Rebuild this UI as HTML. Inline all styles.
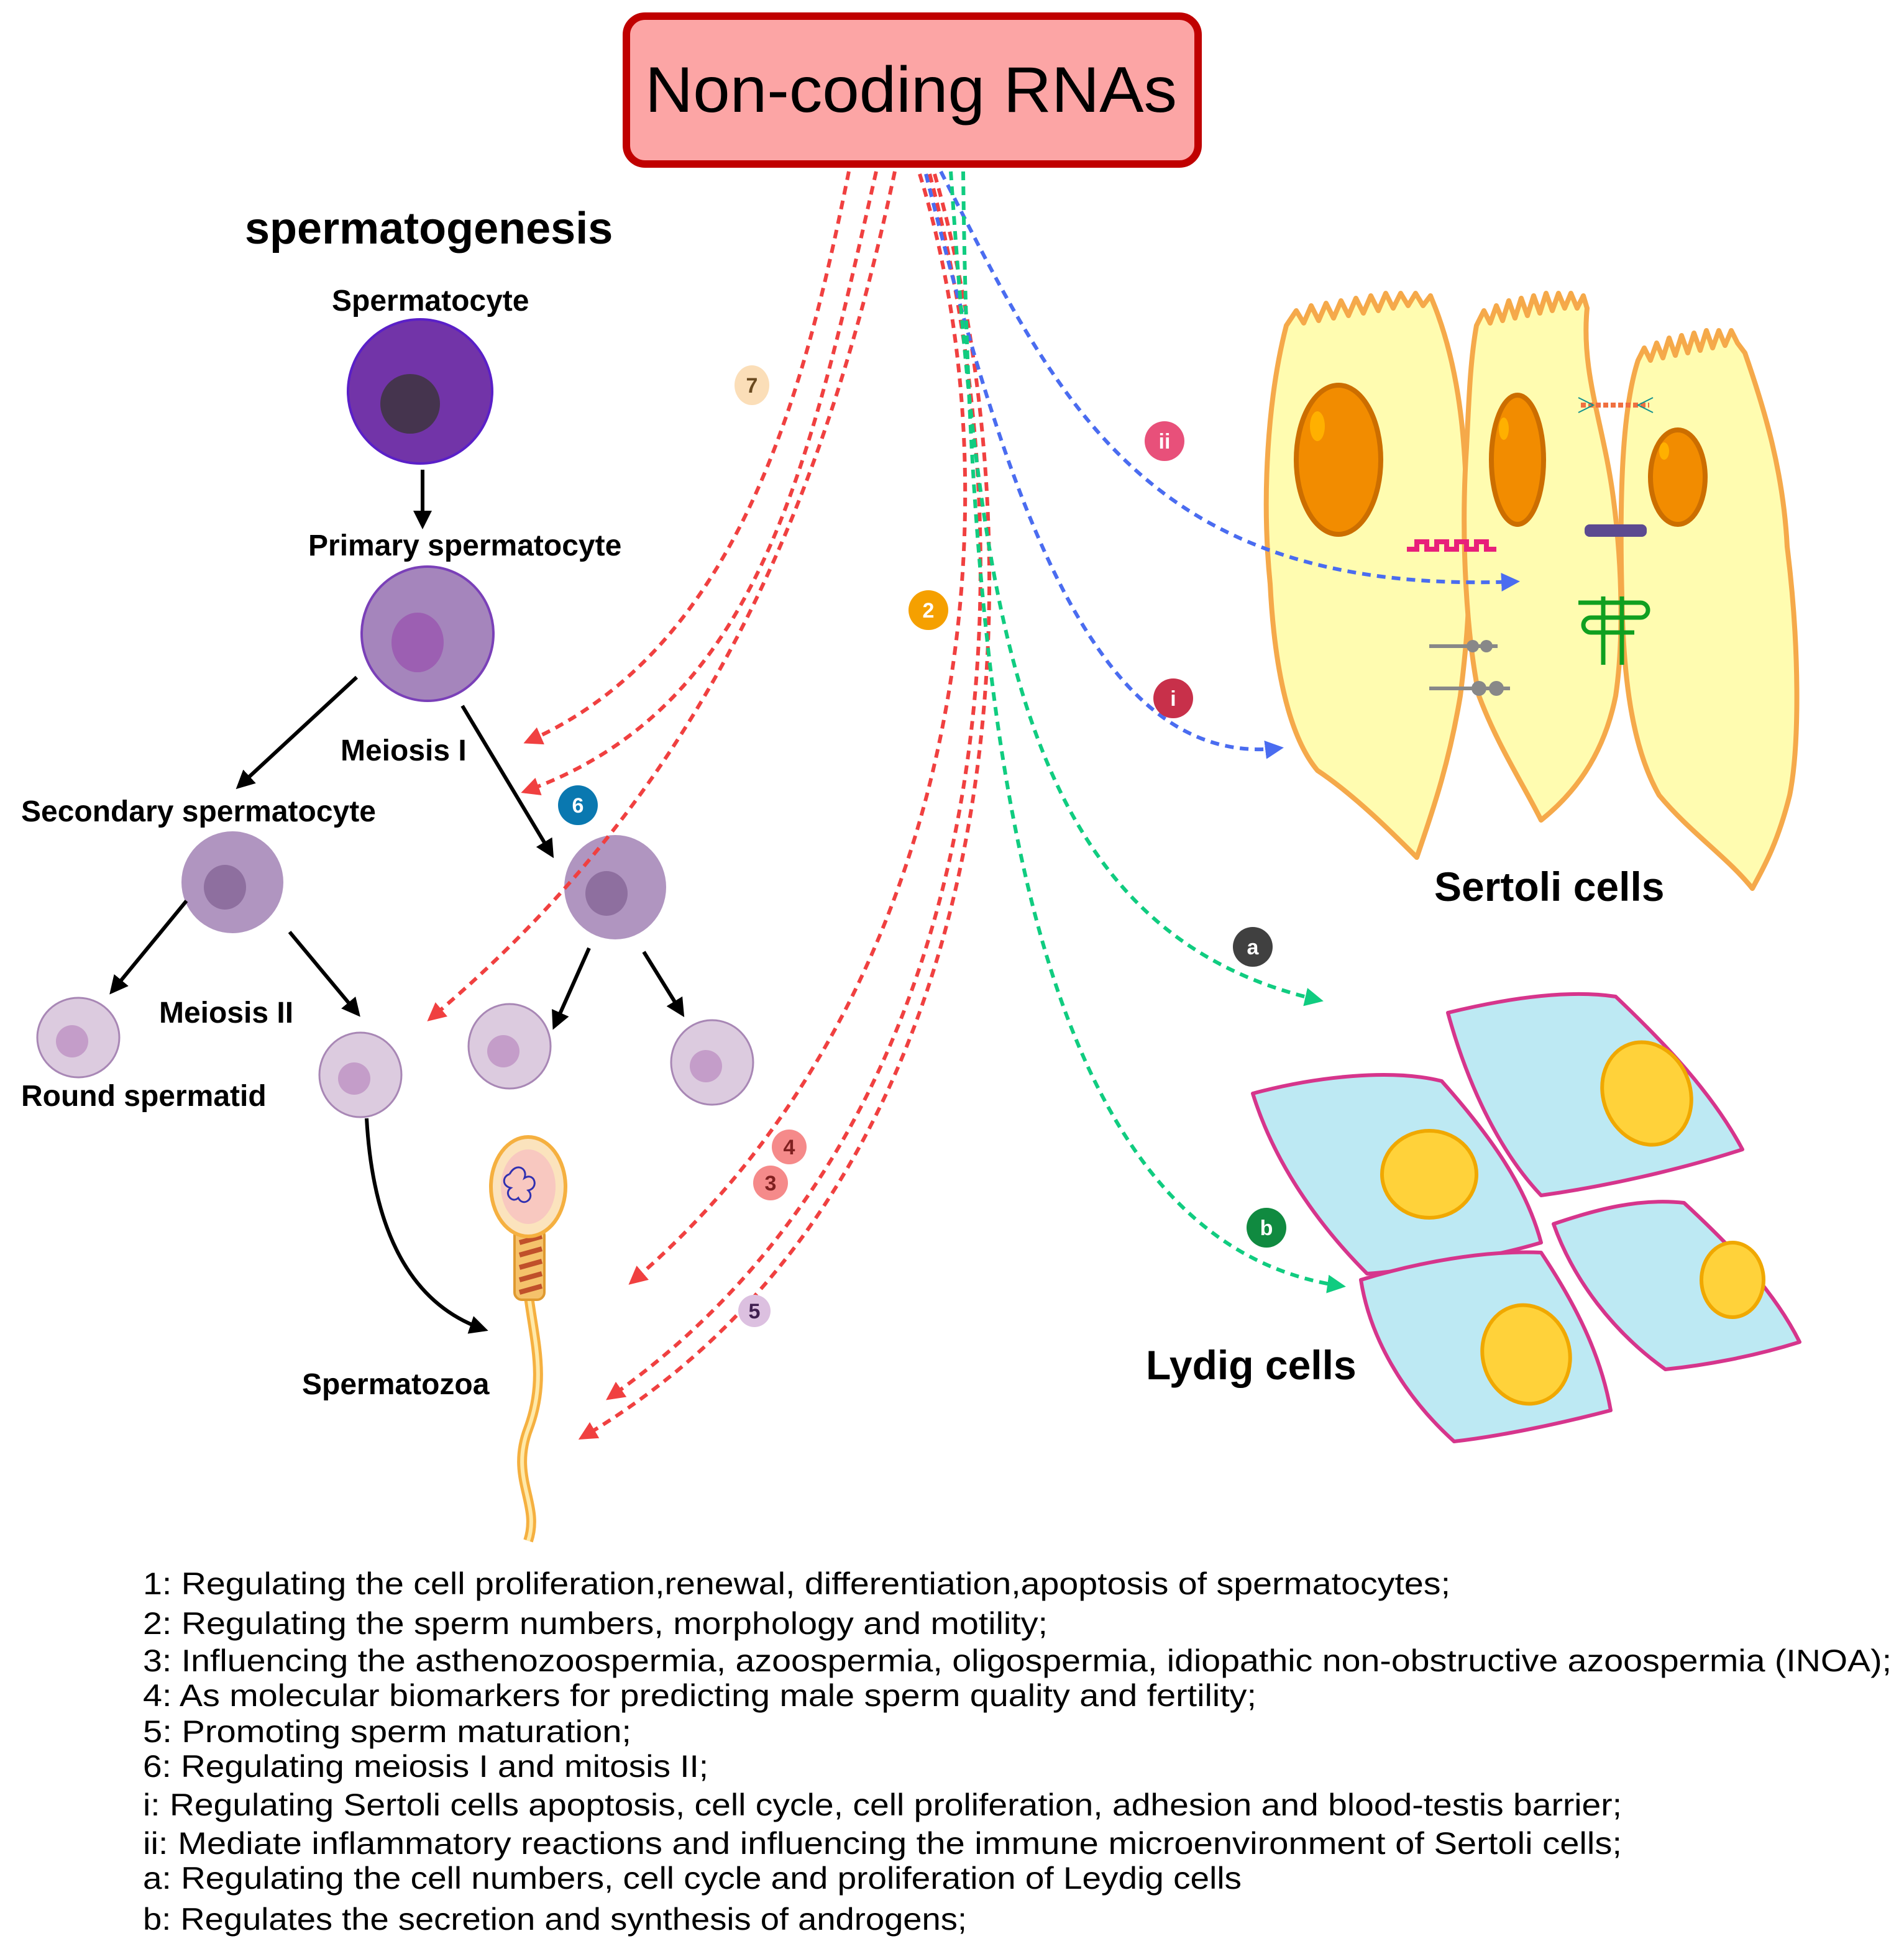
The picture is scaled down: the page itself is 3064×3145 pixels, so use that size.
<!DOCTYPE html>
<html><head><meta charset="utf-8"><style>
html,body{margin:0;padding:0;background:#fff}
svg{display:block}
text{font-family:"Liberation Sans","DejaVu Sans",sans-serif}
</style></head><body>
<svg width="3064" height="3145" viewBox="0 0 1532 1572.5" xmlns="http://www.w3.org/2000/svg">
<defs>
<marker id="ar" viewBox="0 0 10 10" refX="8" refY="5" markerWidth="5" markerHeight="5" orient="auto"><path d="M0,0L10,5L0,10z" fill="#f04040"/></marker>
<marker id="ab" viewBox="0 0 10 10" refX="8" refY="5" markerWidth="5" markerHeight="5" orient="auto"><path d="M0,0L10,5L0,10z" fill="#4a6cf0"/></marker>
<marker id="ag" viewBox="0 0 10 10" refX="8" refY="5" markerWidth="5" markerHeight="5" orient="auto"><path d="M0,0L10,5L0,10z" fill="#10cc80"/></marker>
<marker id="ak" viewBox="0 0 10 10" refX="8" refY="5" markerWidth="5" markerHeight="5" orient="auto"><path d="M0,0L10,5L0,10z" fill="#000"/></marker>
</defs>

<rect x="504" y="13" width="460" height="119" rx="15" fill="#fca5a5" stroke="#c00000" stroke-width="6"/>
<text x="733" y="90" font-size="52" text-anchor="middle" textLength="428" lengthAdjust="spacingAndGlyphs">Non-coding RNAs</text>

<g stroke="#f5a94a" stroke-width="4" fill="#fffcb0" stroke-linejoin="round">
<path d="M1035,262 l8,-12 l6,10 l6,-14 l6,12 l6,-14 l6,12 l6,-14 l6,12 l6,-14 l6,12 l6,-14 l6,12 l6,-14 l6,12 l6,-12 l6,10 l6,-10 l6,10 l6,-8 l4,10 C1175,300 1180,360 1180,420 C1185,470 1180,520 1175,560 C1165,620 1150,660 1140,690 C1120,670 1090,640 1060,620 C1035,590 1025,530 1022,470 C1015,400 1020,320 1035,262 Z"/>
<path d="M1188,262 l6,-12 l5,10 l5,-14 l5,12 l5,-16 l5,14 l5,-16 l5,14 l5,-16 l5,14 l5,-16 l5,14 l5,-14 l5,12 l5,-12 l5,12 l5,-10 l3,10 C1272,300 1290,340 1298,400 C1306,460 1306,520 1300,560 C1290,610 1265,640 1240,660 C1225,630 1205,600 1190,560 C1178,500 1176,420 1180,360 C1182,320 1183,290 1188,262 Z"/>
<path d="M1318,290 l5,-10 l5,10 l5,-14 l5,12 l5,-16 l5,14 l5,-16 l5,14 l5,-16 l5,14 l5,-16 l5,14 l5,-14 l5,12 l5,-12 l5,10 l6,8 C1420,330 1435,380 1438,440 C1448,520 1448,600 1440,640 C1430,680 1418,700 1410,715 C1390,690 1360,670 1335,640 C1312,600 1306,540 1305,480 C1303,400 1305,330 1318,290 Z"/>
</g>
<g fill="#f28c00" stroke="#cc6e00" stroke-width="4">
<ellipse cx="1077" cy="370" rx="34" ry="60"/>
<ellipse cx="1221" cy="370" rx="21" ry="52"/>
<ellipse cx="1350" cy="384" rx="22" ry="38"/>
</g>
<g fill="#ffb000"><ellipse cx="1060" cy="343" rx="6" ry="12"/><ellipse cx="1210" cy="345" rx="4" ry="9"/><ellipse cx="1339" cy="363" rx="4" ry="7"/></g>
<path d="M1132,442 h8 v-6 h8 v6 h8 v-6 h8 v6 h8 v-6 h8 v6 h8 v-6 h8 v6 h8" stroke="#e8207a" stroke-width="4" fill="none"/>
<rect x="1275" y="422" width="50" height="10" rx="4" fill="#5c4a90"/>
<path d="M1272,326 h55" stroke="#f07040" stroke-width="4" stroke-dasharray="4 2"/>
<path d="M1270,320 l12,6 l-12,6 M1330,320 l-12,6 l12,6" stroke="#109090" fill="none" stroke-width="1"/>
<path d="M1270,485 h50 a6,6 0 0 1 0,12 h-40 a6,6 0 0 0 0,12 h35 M1290,480 v55 M1305,480 v55" stroke="#10a020" stroke-width="3.5" fill="none"/>
<g stroke="#888" stroke-width="3"><path d="M1150,520 h55"/><path d="M1150,554 h65"/></g>
<g fill="#888"><circle cx="1185" cy="520" r="5"/><circle cx="1196" cy="520" r="5"/><circle cx="1190" cy="554" r="6"/><circle cx="1204" cy="554" r="6"/></g>
<text x="1154" y="725" font-size="33" font-weight="bold">Sertoli cells</text>

<g fill="#bde9f3" stroke="#d6358c" stroke-width="3" stroke-linejoin="round">
<path d="M1008,880 C1060,866 1120,860 1160,870 C1200,915 1228,955 1240,1000 C1200,1012 1140,1022 1100,1025 C1060,985 1025,935 1008,880 Z"/>
<path d="M1165,815 C1210,804 1260,796 1300,802 C1340,840 1378,880 1402,925 C1350,942 1290,955 1240,962 C1205,925 1180,870 1165,815 Z"/>
<path d="M1250,985 C1285,973 1320,964 1355,968 C1395,1005 1428,1040 1448,1080 C1410,1092 1370,1099 1340,1102 C1298,1072 1266,1030 1250,985 Z"/>
<path d="M1095,1030 C1140,1016 1195,1006 1240,1008 C1268,1050 1288,1090 1296,1135 C1250,1147 1205,1156 1170,1160 C1128,1122 1102,1075 1095,1030 Z"/>
</g>
<g fill="#ffd23a" stroke="#f0a800" stroke-width="3">
<ellipse cx="1150" cy="945" rx="38" ry="35"/>
<ellipse cx="1325" cy="880" rx="35" ry="42" transform="rotate(-20 1325 880)"/>
<ellipse cx="1394" cy="1030" rx="25" ry="30"/>
<ellipse cx="1228" cy="1090" rx="35" ry="40" transform="rotate(-15 1228 1090)"/>
</g>
<text x="922" y="1110" font-size="33" font-weight="bold">Lydig cells</text>

<text x="197" y="196" font-size="36" font-weight="bold">spermatogenesis</text>
<g font-size="24" font-weight="bold">
<text x="267" y="250">Spermatocyte</text>
<text x="248" y="447">Primary spermatocyte</text>
<text x="274" y="612">Meiosis I</text>
<text x="17" y="661">Secondary spermatocyte</text>
<text x="128" y="823">Meiosis II</text>
<text x="17" y="890">Round spermatid</text>
<text x="243" y="1122">Spermatozoa</text>
</g>
<ellipse cx="338" cy="315" rx="58" ry="58" fill="#7234a8" stroke="#5a1fc8" stroke-width="2"/>
<circle cx="330" cy="325" r="24" fill="#45344e"/>
<ellipse cx="344" cy="510" rx="53" ry="54" fill="#a585bc" stroke="#7a40b8" stroke-width="2"/>
<ellipse cx="336" cy="517" rx="21" ry="24" fill="#9c5fb2"/>
<g fill="#b095c0"><ellipse cx="187" cy="710" rx="41" ry="41"/><ellipse cx="495" cy="714" rx="41" ry="42"/></g>
<g fill="#8e6f9f"><ellipse cx="181" cy="714" rx="17" ry="18"/><ellipse cx="488" cy="719" rx="17" ry="18"/></g>
<g fill="#dccbdf" stroke="#a887b5" stroke-width="1.5">
<ellipse cx="63" cy="835" rx="33" ry="32"/><ellipse cx="290" cy="865" rx="33" ry="34"/><ellipse cx="410" cy="842" rx="33" ry="34"/><ellipse cx="573" cy="855" rx="33" ry="34"/></g>
<g fill="#c49dc9"><circle cx="58" cy="838" r="13"/><circle cx="285" cy="868" r="13"/><circle cx="405" cy="846" r="13"/><circle cx="568" cy="858" r="13"/></g>
<g stroke="#000" stroke-width="3" fill="none" marker-end="url(#ak)">
<path d="M340,378 L340,423"/><path d="M287,545 L192,633"/><path d="M372,568 L444,688"/>
<path d="M150,725 L90,798"/><path d="M233,750 L288,816"/><path d="M474,763 L446,826"/><path d="M518,766 L549,816"/>
<path d="M295,900 C300,990 330,1050 390,1070"/>
</g>
<path d="M425,1040 C430,1080 440,1110 425,1150 C410,1190 435,1210 425,1240" stroke="#f5b040" stroke-width="8" fill="none"/>
<path d="M425,1040 C430,1080 440,1110 425,1150 C410,1190 435,1210 425,1240" stroke="#ffe9a8" stroke-width="3" fill="none"/>
<rect x="414" y="988" width="24" height="58" rx="6" fill="#f5c26b" stroke="#e09a30" stroke-width="2"/>
<g stroke="#c0502a" stroke-width="4"><path d="M418,1000 l18,-5 M418,1010 l18,-5 M418,1020 l18,-5 M418,1030 l18,-5 M418,1040 l18,-5"/></g>
<ellipse cx="425" cy="955" rx="30" ry="40" fill="#fbe3bd" stroke="#f5b040" stroke-width="3"/>
<ellipse cx="425" cy="955" rx="22" ry="30" fill="#f8c8c0"/>
<path d="M410,945 c5,-10 15,-5 12,3 c8,-5 12,8 3,10 c6,6 -4,14 -8,6 c-5,5 -12,-4 -6,-8 c-8,-2 -6,-10 -1,-11" stroke="#3030b0" stroke-width="1.5" fill="none"/>

<g fill="none" stroke-width="3" stroke-dasharray="7 5">
<path d="M683,138 C650,300 600,520 424,597" stroke="#f04040" marker-end="url(#ar)"/>
<path d="M705,138 C650,380 610,570 422,637" stroke="#f04040" marker-end="url(#ar)"/>
<path d="M720,138 C660,420 560,640 346,820" stroke="#f04040" marker-end="url(#ar)"/>
<path d="M740,140 C820,400 780,800 508,1032" stroke="#f04040" marker-end="url(#ar)"/>
<path d="M748,140 C830,450 810,900 490,1125" stroke="#f04040" marker-end="url(#ar)"/>
<path d="M752,140 C840,450 820,950 468,1157" stroke="#f04040" marker-end="url(#ar)"/>
<path d="M757,138 C850,320 920,480 1220,468" stroke="#4a6cf0" marker-end="url(#ab)"/>
<path d="M745,140 C810,400 880,620 1030,602" stroke="#4a6cf0" marker-end="url(#ab)"/>
<path d="M765,138 C790,500 820,750 1062,805" stroke="#10cc80" marker-end="url(#ag)"/>
<path d="M775,138 C780,600 830,1000 1080,1035" stroke="#10cc80" marker-end="url(#ag)"/>
</g>
<g font-size="17" text-anchor="middle" font-weight="bold">
<ellipse cx="605" cy="310" rx="14" ry="16" fill="#fbdeb8"/><text x="605" y="316" fill="#6a4a20">7</text>
<circle cx="465" cy="648" r="16" fill="#0a78b0"/><text x="465" y="654" fill="#fff">6</text>
<circle cx="747" cy="491" r="16" fill="#f5a000"/><text x="747" y="497" fill="#fff">2</text>
<circle cx="635" cy="923" r="14" fill="#f58a8a"/><text x="635" y="929" fill="#802020">4</text>
<circle cx="620" cy="952" r="14" fill="#f58a8a"/><text x="620" y="958" fill="#802020">3</text>
<circle cx="607" cy="1055" r="13" fill="#dcc0e0"/><text x="607" y="1061" fill="#402050">5</text>
<circle cx="937" cy="355" r="16" fill="#e8507a"/><text x="937" y="361" fill="#fff">ii</text>
<circle cx="944" cy="562" r="16" fill="#c8304a"/><text x="944" y="568" fill="#fff">i</text>
<circle cx="1008" cy="762" r="16" fill="#404040"/><text x="1008" y="768" fill="#fff">a</text>
<circle cx="1019" cy="988" r="16" fill="#108a40"/><text x="1019" y="994" fill="#fff">b</text>
</g>

<g font-size="25">
<text x="115" y="1283" textLength="1052" lengthAdjust="spacingAndGlyphs">1:  Regulating the cell proliferation,renewal, differentiation,apoptosis of  spermatocytes;</text>
<text x="115" y="1315" textLength="728" lengthAdjust="spacingAndGlyphs">2:  Regulating the sperm numbers, morphology and motility;</text>
<text x="115" y="1345" textLength="1407" lengthAdjust="spacingAndGlyphs">3:  Influencing the  asthenozoospermia, azoospermia, oligospermia,  idiopathic non-obstructive azoospermia (INOA);</text>
<text x="115" y="1373" textLength="896" lengthAdjust="spacingAndGlyphs">4:  As molecular biomarkers for predicting male sperm quality and fertility;</text>
<text x="115" y="1402" textLength="393" lengthAdjust="spacingAndGlyphs">5:  Promoting sperm maturation;</text>
<text x="115" y="1430" textLength="455" lengthAdjust="spacingAndGlyphs">6:  Regulating meiosis I and mitosis II;</text>
<text x="115" y="1461" textLength="1190" lengthAdjust="spacingAndGlyphs"> i:  Regulating Sertoli cells apoptosis, cell cycle, cell proliferation, adhesion and blood-testis barrier;</text>
<text x="115" y="1492" textLength="1190" lengthAdjust="spacingAndGlyphs">ii:  Mediate inflammatory reactions and influencing the immune microenvironment of  Sertoli cells;</text>
<text x="115" y="1520" textLength="884" lengthAdjust="spacingAndGlyphs">a:  Regulating the cell numbers, cell cycle and proliferation of Leydig cells</text>
<text x="115" y="1553" textLength="663" lengthAdjust="spacingAndGlyphs">b:  Regulates the secretion and synthesis of androgens;</text>
</g>
</svg>
</body></html>
